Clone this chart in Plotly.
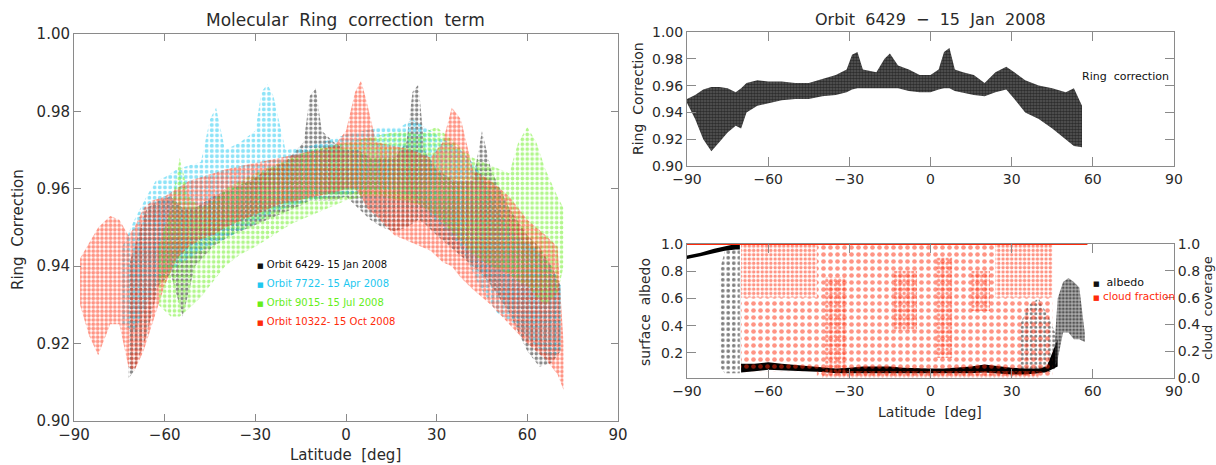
"""Molecular Ring correction term - four orbits plus orbit 6429 detail."""

import plotly.graph_objects as go

# ---- left panel: envelope of the ring correction cloud per orbit ----
orbits = ["Orbit 6429- 15 Jan 2008", "Orbit 7722- 15 Apr 2008",
          "Orbit 9015- 15 Jul 2008", "Orbit 10322- 15 Oct 2008"]

lat_6429 = [-72, -70, -66, -62, -58, -54, -50, -44, -38, -32, -26, -20, -14, -12, -10,
            -8, -4, 0, 4, 8, 12, 16, 20, 22, 24, 26, 30, 36, 42, 45, 48, 54, 60, 64, 68, 71]
lo_6429 = [0.911, 0.913, 0.922, 0.935, 0.938, 0.927, 0.94, 0.945, 0.948, 0.95, 0.952,
           0.954, 0.956, 0.957, 0.957, 0.957, 0.957, 0.958, 0.955, 0.952, 0.95, 0.949,
           0.95, 0.951, 0.952, 0.951, 0.948, 0.944, 0.94, 0.938, 0.935, 0.928, 0.918,
           0.914, 0.915, 0.918]
hi_6429 = [0.94, 0.945, 0.955, 0.957, 0.958, 0.955, 0.955, 0.958, 0.96, 0.962, 0.965,
           0.967, 0.972, 0.984, 0.986, 0.975, 0.972, 0.97, 0.97, 0.968, 0.968, 0.968,
           0.972, 0.985, 0.987, 0.97, 0.965, 0.962, 0.962, 0.975, 0.965, 0.955, 0.948,
           0.945, 0.94, 0.935]

lat_7722 = [-74, -70, -66, -63, -60, -56, -52, -48, -45, -43, -40, -35, -30, -28, -26,
            -24, -20, -12, -4, 0, 6, 12, 18, 22, 26, 32, 38, 44, 50, 56, 62, 68, 71]
lo_7722 = [0.925, 0.923, 0.93, 0.935, 0.938, 0.94, 0.942, 0.944, 0.945, 0.946, 0.947,
           0.949, 0.951, 0.952, 0.953, 0.954, 0.955, 0.957, 0.958, 0.958, 0.96, 0.96,
           0.959, 0.958, 0.955, 0.95, 0.945, 0.935, 0.928, 0.925, 0.92, 0.916, 0.918]
hi_7722 = [0.945, 0.952, 0.958, 0.962, 0.963, 0.965, 0.966, 0.967, 0.978, 0.981, 0.97,
           0.972, 0.975, 0.985, 0.987, 0.984, 0.97, 0.971, 0.973, 0.974, 0.975, 0.976,
           0.976, 0.978, 0.976, 0.973, 0.97, 0.965, 0.955, 0.948, 0.945, 0.94, 0.935]

lat_9015 = [-62, -58, -55, -52, -48, -44, -40, -35, -30, -24, -18, -12, -6, 0, 6, 12,
            18, 24, 30, 36, 42, 48, 54, 57, 60, 63, 66, 70, 72]
lo_9015 = [0.93, 0.927, 0.927, 0.929, 0.932, 0.936, 0.94, 0.943, 0.945, 0.948, 0.951,
           0.953, 0.955, 0.957, 0.958, 0.958, 0.957, 0.956, 0.953, 0.948, 0.943, 0.94,
           0.938, 0.936, 0.935, 0.932, 0.93, 0.933, 0.94]
hi_9015 = [0.945, 0.955, 0.968, 0.958, 0.955, 0.957, 0.96, 0.962, 0.964, 0.966, 0.968,
           0.97, 0.971, 0.972, 0.973, 0.974, 0.975, 0.974, 0.976, 0.972, 0.968, 0.966,
           0.964, 0.972, 0.976, 0.972, 0.965, 0.958, 0.955]

lat_10322 = [-88, -85, -82, -78, -75, -72, -70, -67, -64, -60, -56, -52, -48, -44, -40,
             -34, -28, -22, -16, -10, -4, 0, 3, 5, 7, 10, 16, 22, 28, 32, 35, 38, 42, 48,
             54, 60, 66, 70, 72]
lo_10322 = [0.93, 0.922, 0.917, 0.925, 0.925, 0.914, 0.913, 0.918, 0.925, 0.935, 0.942,
            0.945, 0.947, 0.948, 0.95, 0.952, 0.954, 0.956, 0.957, 0.958, 0.959, 0.96,
            0.96, 0.958, 0.955, 0.953, 0.948, 0.946, 0.944, 0.941, 0.94, 0.937, 0.934,
            0.93, 0.925, 0.92, 0.916, 0.912, 0.908]
hi_10322 = [0.942, 0.946, 0.95, 0.953, 0.952, 0.948, 0.95, 0.955, 0.957, 0.958, 0.96,
            0.962, 0.963, 0.964, 0.965, 0.966, 0.967, 0.968, 0.969, 0.97, 0.971, 0.975,
            0.985, 0.988, 0.982, 0.972, 0.971, 0.97, 0.968, 0.972, 0.981, 0.978, 0.965,
            0.962, 0.958, 0.952, 0.948, 0.945, 0.92]

# ---- right top: orbit 6429 over its full latitude range ----
rt_lat = [-90, -87, -84, -81, -78, -75, -72, -70, -68, -64, -60, -55, -50, -45, -40,
          -35, -31, -29, -27, -25, -20, -17, -15, -12, -8, -4, 0, 3, 5, 7, 9, 12, 16,
          20, 24, 28, 31, 35, 40, 45, 50, 53, 56]
rt_lo = [0.947, 0.935, 0.92, 0.911, 0.918, 0.925, 0.93, 0.928, 0.94, 0.945, 0.947,
         0.949, 0.95, 0.95, 0.952, 0.953, 0.955, 0.957, 0.958, 0.958, 0.958, 0.958,
         0.958, 0.958, 0.956, 0.955, 0.955, 0.957, 0.958, 0.958, 0.956, 0.955, 0.953,
         0.952, 0.955, 0.957, 0.95, 0.94, 0.935, 0.928, 0.92, 0.915, 0.914]
rt_hi = [0.95, 0.953, 0.957, 0.959, 0.959, 0.958, 0.955, 0.958, 0.962, 0.964, 0.963,
         0.963, 0.962, 0.962, 0.965, 0.968, 0.972, 0.983, 0.985, 0.972, 0.97, 0.98,
         0.984, 0.975, 0.972, 0.968, 0.968, 0.972, 0.985, 0.988, 0.972, 0.97, 0.968,
         0.962, 0.97, 0.974, 0.97, 0.964, 0.96, 0.958, 0.955, 0.958, 0.945]

# ---- right bottom: surface albedo (left axis) ----
alb_lat = [-90, -85, -80, -76, -72, -70.5, -70, -65, -60, -55, -50, -45, -40, -35, -30,
           -25, -20, -15, -10, -5, 0, 5, 10, 15, 20, 25, 30, 35, 40, 43, 45, 47]
alb_lo = [0.89, 0.91, 0.93, 0.95, 0.96, 0.96, 0.055, 0.065, 0.075, 0.075, 0.07, 0.065,
          0.06, 0.05, 0.055, 0.055, 0.055, 0.055, 0.05, 0.05, 0.05, 0.05, 0.05, 0.05,
          0.055, 0.05, 0.04, 0.04, 0.05, 0.06, 0.08, 0.1]
alb_hi = [0.915, 0.935, 0.965, 0.985, 1.0, 1.0, 0.12, 0.12, 0.13, 0.12, 0.11, 0.1, 0.09,
          0.085, 0.09, 0.1, 0.1, 0.1, 0.09, 0.085, 0.085, 0.085, 0.09, 0.1, 0.115, 0.1,
          0.09, 0.085, 0.085, 0.1, 0.2, 0.3]
alb_ice_lat = [-78, -76, -73, -70.5]
alb_ice_lo = [0.1, 0.05, 0.05, 0.05]
alb_ice_hi = [0.8, 0.95, 0.98, 1.0]
alb_n_lat = [33, 36, 40, 44, 46]
alb_n_lo = [0.05, 0.05, 0.05, 0.06, 0.08]
alb_n_hi = [0.4, 0.55, 0.6, 0.45, 0.35]
alb_peak_lat = [46, 47, 49, 51, 53, 55, 57]
alb_peak_lo = [0.1, 0.15, 0.35, 0.35, 0.3, 0.3, 0.28]
alb_peak_hi = [0.3, 0.6, 0.72, 0.75, 0.72, 0.68, 0.35]

# ---- right bottom: cloud fraction (right axis), (lat from, lat to, low, high) ----
cf_dense = [(-70, -42, 0.6, 1.0), (-39, -31, 0.05, 0.75), (-14, -5, 0.35, 0.8),
            (2, 8, 0.15, 0.9), (15, 22, 0.5, 0.8), (24, 45, 0.6, 1.0), (-40, 40, 0.0, 0.05)]
cf_sparse = [(-70, -42, 0.05, 0.6), (-42, -28, 0.0, 1.0), (-28, -18, 0.0, 1.0),
             (-18, -2, 0.0, 1.0), (-2, 24, 0.0, 1.0), (24, 45, 0.0, 0.6)]
cf_top_lat = [-90, 58]
cf_top_val = [1.0, 1.0]

colors = ["#111111", "#1ec8f0", "#66ee1a", "#ff2a0a"]
TXT = "#2a2a2a"
AX = "#8a8a8a"
FONT = "DejaVu Sans"


def band(lat, lo, hi, color, size, solidity, xa="x", ya="y", under="rgba(0,0,0,0)"):
    """Closed envelope polygon drawn with a dotted texture."""
    if solidity >= 1:
        fill = dict(fillcolor=color)
    else:
        fill = dict(fillcolor="rgba(0,0,0,0)",
                    fillpattern=dict(shape=".", fgcolor=color, bgcolor=under,
                                     size=size, solidity=solidity))
    return go.Scatter(
        x=list(lat) + list(lat)[::-1], y=list(hi) + list(lo)[::-1],
        xaxis=xa, yaxis=ya, mode="lines", line=dict(width=0),
        fill="toself", hoverinfo="skip", showlegend=False, **fill)


fig = go.Figure()

left_sets = [(lat_6429, lo_6429, hi_6429), (lat_7722, lo_7722, hi_7722),
             (lat_9015, lo_9015, hi_9015), (lat_10322, lo_10322, hi_10322)]
sizes = [4.6, 5.2, 4.9, 4.3]
solid = [0.45, 0.45, 0.45, 0.6]
for (lat, lo, hi), c, s, d in zip(left_sets, colors, sizes, solid):
    fig.add_trace(band(lat, lo, hi, c, s, d))

fig.add_trace(band(rt_lat, rt_lo, rt_hi, "#000000", 3, 0.6, "x2", "y2", under="#5a5a5a"))

for lat0, lat1, lo, hi in cf_sparse:
    fig.add_trace(band([lat0, lat1], [lo, lo], [hi, hi], colors[3], 7, 0.35, "x3", "y4"))
for lat0, lat1, lo, hi in cf_dense:
    fig.add_trace(band([lat0, lat1], [lo, lo], [hi, hi], colors[3], 4.3, 0.5, "x3", "y4"))
fig.add_trace(go.Scatter(x=cf_top_lat, y=cf_top_val, xaxis="x3", yaxis="y4",
                         mode="lines", line=dict(color=colors[3], width=2),
                         hoverinfo="skip", showlegend=False))

fig.add_trace(band(alb_lat, alb_lo, alb_hi, "#000000", 2, 1, "x3", "y3"))
fig.add_trace(band(alb_ice_lat, alb_ice_lo, alb_ice_hi, "#000000", 5.5, 0.35, "x3", "y3"))
fig.add_trace(band(alb_n_lat, alb_n_lo, alb_n_hi, "#000000", 4.5, 0.35, "x3", "y3"))
fig.add_trace(band(alb_peak_lat, alb_peak_lo, alb_peak_hi, "#000000", 3.5, 0.5, "x3", "y3",
                   under="rgba(90,90,90,0.5)"))

W, H = 1216, 465


def px_x(a, b):
    return [a / W, b / W]


def px_y(top, bottom):
    return [1 - bottom / H, 1 - top / H]


axis_common = dict(showline=True, linecolor=AX, linewidth=1, mirror="ticks",
                   ticks="inside", tickcolor=AX, showgrid=False, zeroline=False,
                   automargin=False, tickfont=dict(family=FONT, size=15, color=TXT))
lat_ticks = dict(range=[-90, 90], tickvals=[-90, -60, -30, 0, 30, 60, 90])
small = dict(family=FONT, size=14, color=TXT)

fig.update_layout(
    width=W, height=H, margin=dict(l=0, r=0, t=0, b=0),
    paper_bgcolor="white", plot_bgcolor="white",
    font=dict(family=FONT, color=TXT),
    xaxis=dict(axis_common, **lat_ticks, domain=px_x(74, 618), anchor="y", ticklen=7),
    yaxis=dict(axis_common, range=[0.90, 1.00], dtick=0.02, tickformat=".2f",
               domain=px_y(34, 421), anchor="x", ticklen=7),
    xaxis2=dict(axis_common, **lat_ticks, domain=px_x(687, 1174), anchor="y2",
                ticklen=9, tickfont=small),
    yaxis2=dict(axis_common, range=[0.90, 1.00], dtick=0.02, tickformat=".2f",
                domain=px_y(32, 166), anchor="x2", ticklen=9, tickfont=small),
    xaxis3=dict(axis_common, **lat_ticks, domain=px_x(687, 1174), anchor="y3",
                ticklen=9, tickfont=small),
    yaxis3=dict(axis_common, range=[0.015, 1.0], tickvals=[0.2, 0.4, 0.6, 0.8, 1.0],
                tickformat=".1f", domain=px_y(244, 378), anchor="x3", ticklen=9,
                mirror=False, tickfont=small),
    yaxis4=dict(axis_common, range=[0.0, 1.0], dtick=0.2, tickformat=".1f",
                overlaying="y3", side="right", anchor="x3", ticklen=9, mirror=False,
                tickfont=small),
)

ann = [
    dict(text="Molecular  Ring  correction  term", x=345, y=20, size=17),
    dict(text="Latitude  [deg]", x=345, y=455, size=15),
    dict(text="Ring  Correction", x=18, y=230, size=15, angle=-90),
    dict(text="Orbit  6429  \u2212  15  Jan  2008", x=930, y=19, size=16),
    dict(text="Ring  Correction", x=638, y=99, size=14, angle=-90),
    dict(text="surface  albedo", x=645, y=312, size=14, angle=-90),
    dict(text="cloud  coverage", x=1207, y=308, size=13, angle=-90),
    dict(text="Latitude  [deg]", x=930, y=412, size=14),
]
for a in ann:
    fig.add_annotation(text=a["text"], x=a["x"] / W, y=1 - a["y"] / H,
                       xref="paper", yref="paper", showarrow=False,
                       textangle=a.get("angle", 0), xanchor="center", yanchor="middle",
                       font=dict(family=FONT, size=a["size"], color=TXT))

# in-plot legend entries
leg_rows = [264, 283, 302, 321]
for name, c, row in zip(orbits, colors, leg_rows):
    fig.add_annotation(text="<span style='font-size:7px'>\u25a0</span> " + name,
                       x=255 / W, y=1 - row / H, xref="paper", yref="paper",
                       showarrow=False, xanchor="left", yanchor="middle",
                       font=dict(family=FONT, size=10, color=c))
fig.add_annotation(text="Ring  correction", x=1080 / W, y=1 - 76 / H, xref="paper",
                   yref="paper", showarrow=False, xanchor="left", yanchor="middle",
                   font=dict(family=FONT, size=11, color="#111111"))
fig.add_annotation(text="<span style='font-size:7px'>\u25a0</span>  albedo",
                   x=1091 / W, y=1 - 282 / H, xref="paper", yref="paper",
                   showarrow=False, xanchor="left", yanchor="middle",
                   font=dict(family=FONT, size=11, color="#111111"))
fig.add_annotation(text="<span style='font-size:7px'>\u25a0</span> cloud fraction",
                   x=1091 / W, y=1 - 296 / H, xref="paper", yref="paper",
                   showarrow=False, xanchor="left", yanchor="middle",
                   font=dict(family=FONT, size=10.5, color=colors[3]))

# the page body has a default 8px margin; drop it so the figure fills the window
fig.write_html("out.html", config={"displayModeBar": False},
               post_script="document.body.style.margin = '0';")
